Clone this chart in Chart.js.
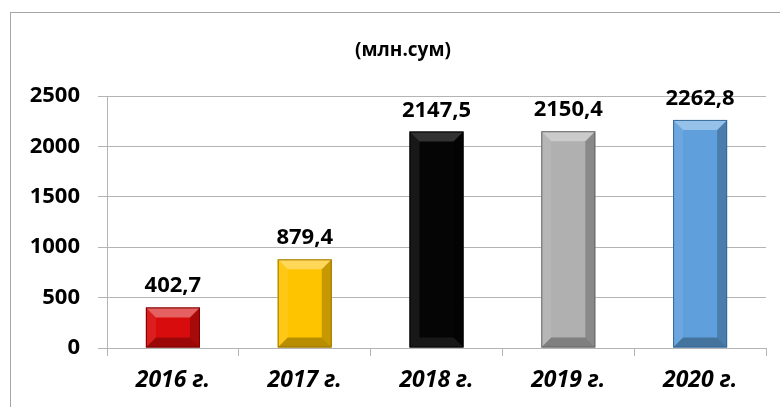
<!DOCTYPE html>
<html>
<head>
<meta charset="utf-8">
<script src="https://cdn.jsdelivr.net/npm/chart.js@4"></script>
<style>
  html, body { margin: 0; padding: 0; background: #fff; }
  #wrap { position: relative; width: 780px; height: 407px; overflow: hidden; }
  #frame { position: absolute; left: 10px; top: 12px; width: 820px; height: 440px;
           border-top: 1px solid #a6a6a6; border-left: 1px solid #a6a6a6; }
  #title { position: absolute; left: 303px; top: 36px; width: 200px; text-align: center;
           font: bold 19px 'Open Sans', sans-serif; color: #000; line-height: 26px; }
  canvas { position: absolute; left: 0; top: 0; }
</style>
</head>
<body>
<div id="wrap">
  <div id="frame"></div>
  <canvas id="barChart" width="780" height="407"></canvas>
  <div id="title"></div>
</div>
<script>
let years = ["2016 г.", "2017 г.", "2018 г.", "2019 г.", "2020 г."];
let amounts = [402.7, 879.4, 2147.5, 2150.4, 2262.8];
let barColors = ["#d80c0c", "#ffc400", "#050505", "#b0b0b0", "#5fa0dc"];
let edgeColors = ["#7a0000", "#9a7400", "#000000", "#666666", "#35689a"];
let yTickValues = [0, 500, 1000, 1500, 2000, 2500];
let unitTitle = "(млн.сум)";

let fontFamily = "'Open Sans', sans-serif";
let gridColor = "#b4b4b4";

document.getElementById("title").innerText = unitTitle;

// bevel look like the excel bars
let bevelPlugin = {
  id: "bevel",
  afterDatasetsDraw(chart) {
    let ctx = chart.ctx;
    let meta = chart.getDatasetMeta(0);
    meta.data.forEach((bar, i) => {
      let p = bar.getProps(["x", "y", "base", "width"], true);
      let left = p.x - p.width / 2;
      let right = p.x + p.width / 2;
      let top = p.y;
      let bottom = p.base;
      let d = Math.min(10, (bottom - top) / 3);
      ctx.save();
      // right side darker
      ctx.fillStyle = "rgba(0,0,0,0.22)";
      ctx.beginPath();
      ctx.moveTo(right, top);
      ctx.lineTo(right - d, top + d);
      ctx.lineTo(right - d, bottom - d);
      ctx.lineTo(right, bottom);
      ctx.closePath();
      ctx.fill();
      // left side a bit lighter
      ctx.fillStyle = "rgba(255,255,255,0.08)";
      ctx.beginPath();
      ctx.moveTo(left, top);
      ctx.lineTo(left + d, top + d);
      ctx.lineTo(left + d, bottom - d);
      ctx.lineTo(left, bottom);
      ctx.closePath();
      ctx.fill();
      // top light
      ctx.fillStyle = i == 2 ? "rgba(255,255,255,0.18)" : "rgba(255,255,255,0.35)";
      ctx.beginPath();
      ctx.moveTo(left, top);
      ctx.lineTo(right, top);
      ctx.lineTo(right - d, top + d);
      ctx.lineTo(left + d, top + d);
      ctx.closePath();
      ctx.fill();
      // bottom dark
      ctx.fillStyle = i == 2 ? "rgba(255,255,255,0.08)" : "rgba(0,0,0,0.28)";
      ctx.beginPath();
      ctx.moveTo(left, bottom);
      ctx.lineTo(right, bottom);
      ctx.lineTo(right - d, bottom - d);
      ctx.lineTo(left + d, bottom - d);
      ctx.closePath();
      ctx.fill();
      ctx.strokeStyle = edgeColors[i];
      ctx.lineWidth = 1;
      ctx.strokeRect(left + 0.5, top + 0.5, p.width - 1, bottom - top - 1);
      ctx.restore();
    });
  },
};

let valueLabels = {
  id: "valueLabels",
  afterDatasetsDraw(chart) {
    let ctx = chart.ctx;
    let meta = chart.getDatasetMeta(0);
    ctx.save();
    ctx.font = "bold 22px " + fontFamily;
    ctx.fillStyle = "#000";
    ctx.textAlign = "center";
    ctx.textBaseline = "alphabetic";
    meta.data.forEach((bar, i) => {
      let text = amounts[i].toFixed(1).replace(".", ",");
      ctx.fillText(text, bar.x, bar.y - 15);
    });
    ctx.restore();
  },
};

new Chart(document.getElementById("barChart"), {
  type: "bar",
  data: {
    labels: years,
    datasets: [
      {
        data: amounts,
        backgroundColor: barColors,
        barPercentage: 0.41,
        categoryPercentage: 1,
      },
    ],
  },
  options: {
    responsive: false,
    animation: false,
    layout: { padding: { left: 10, right: 14, top: 96, bottom: 0 } },
    plugins: {
      legend: { display: false },
      tooltip: { enabled: false },
    },
    scales: {
      x: {
        grid: {
          display: true,
          drawOnChartArea: false,
          color: gridColor,
          tickLength: 8,
          offset: true,
        },
        border: { color: gridColor },
        ticks: {
          color: "#000",
          padding: 11,
          font: { family: fontFamily, size: 23, weight: "bold", style: "italic" },
        },
        afterFit(scale) {
          scale.height = 59;
        },
      },
      y: {
        min: 0,
        max: 2500,
        afterBuildTicks(scale) {
          scale.ticks = yTickValues.map((v) => ({ value: v }));
        },
        grid: { color: gridColor, tickLength: 9 },
        border: { color: gridColor },
        ticks: {
          color: "#000",
          padding: 18,
          font: { family: fontFamily, size: 22, weight: "bold" },
          callback: (v) => String(v),
        },
        afterFit(scale) {
          scale.width = 97;
        },
      },
    },
  },
  plugins: [bevelPlugin, valueLabels],
});
</script>
</body>
</html>
